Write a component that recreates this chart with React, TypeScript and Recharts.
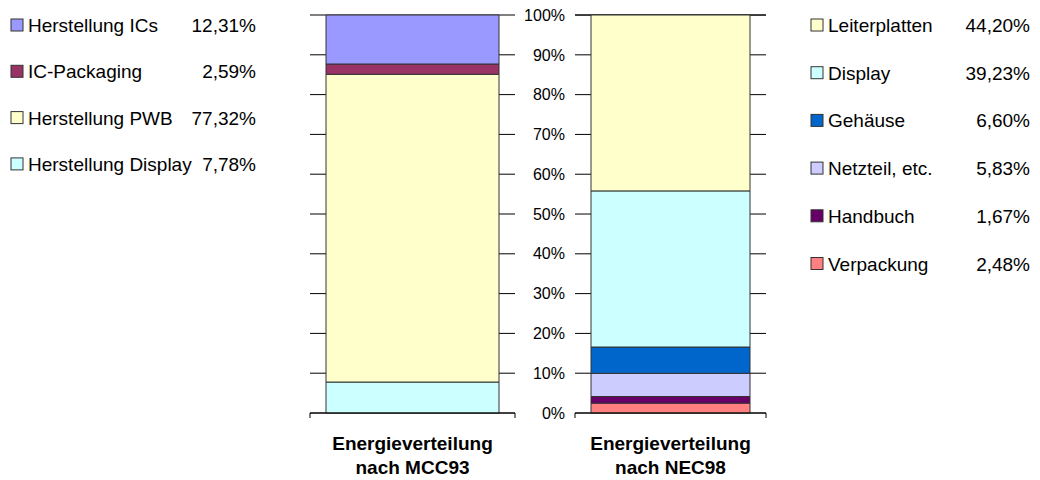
import React from 'react';
import { BarChart, Bar, XAxis, YAxis, CartesianGrid } from 'recharts';

// MCC93 energy breakdown (legend order, top to bottom)
const mccSeries = ['Herstellung ICs', 'IC-Packaging', 'Herstellung PWB', 'Herstellung Display'];
const mccValues = [12.31, 2.59, 77.32, 7.78];
const mccColors = ['#9999FF', '#993366', '#FFFFCC', '#CCFFFF'];
const mccCategory = ['Energieverteilung', 'nach MCC93'];

// NEC98 energy breakdown (legend order, top to bottom)
const necSeries = ['Leiterplatten', 'Display', 'Gehäuse', 'Netzteil, etc.', 'Handbuch', 'Verpackung'];
const necValues = [44.2, 39.23, 6.6, 5.83, 1.67, 2.48];
const necColors = ['#FFFFCC', '#CCFFFF', '#0066CC', '#CCCCFF', '#660066', '#FF8080'];
const necCategory = ['Energieverteilung', 'nach NEC98'];

const yTicks = [0, 10, 20, 30, 40, 50, 60, 70, 80, 90, 100];

const FONT = '"Liberation Sans", Arial, Helvetica, sans-serif';

const fmtPct = (v: number) => v.toFixed(2).replace('.', ',') + '%';

const buildRow = (category: string[], series: string[], values: number[]) => {
  const row: Record<string, string | number> = { name: category.join(' ') };
  series.forEach((s, i) => {
    row['s' + i] = values[i];
  });
  return [row];
};

const mccRows = buildRow(mccCategory, mccSeries, mccValues);
const necRows = buildRow(necCategory, necSeries, necValues);

// Two-line bold category label plus the short tick marks at both band edges
const CategoryTick = (lines: string[]) => (props: any) => {
  const { x, y, payload } = props;
  const half = payload && typeof payload.offset === 'number' ? payload.offset : 0;
  return (
    <g>
      <line x1={x - half} x2={x - half} y1={y} y2={y + 5} stroke="#000" strokeWidth={1} />
      <line x1={x + half} x2={x + half} y1={y} y2={y + 5} stroke="#000" strokeWidth={1} />
      <text x={x} textAnchor="middle" fontFamily={FONT} fontSize={19} fontWeight="bold" fill="#000">
        <tspan x={x} y={y + 37}>{lines[0]}</tspan>
        <tspan x={x} y={y + 61}>{lines[1]}</tspan>
      </text>
    </g>
  );
};

interface StackProps {
  rows: Record<string, string | number>[];
  series: string[];
  colors: string[];
  category: string[];
  left: number;
  right: number;
  showY: boolean;
}

const StackChart = ({ rows, series, colors, category, left, right, showY }: StackProps) => (
  <BarChart
    width={1040}
    height={480}
    data={rows}
    margin={{ top: 15, right: 1040 - right, bottom: 0, left: showY ? left - 60 : left }}
    barCategoryGap={16}
  >
    <CartesianGrid vertical={false} stroke="#000" strokeWidth={1} />
    <XAxis
      dataKey="name"
      height={67}
      axisLine={{ stroke: '#000' }}
      tickLine={false}
      tickSize={0}
      tickMargin={0}
      interval={0}
      tick={CategoryTick(category)}
    />
    <YAxis
      domain={[0, 100]}
      ticks={yTicks}
      hide={!showY}
      width={60}
      axisLine={false}
      tickLine={false}
      tickSize={0}
      tickMargin={10}
      tickFormatter={(v: number) => v + '%'}
      tick={{ fill: '#000', fontSize: 16, fontFamily: FONT }}
    />
    {series
      .map((s, i) => (
        <Bar
          key={s}
          dataKey={'s' + i}
          name={s}
          stackId="a"
          fill={colors[i]}
          stroke="#333"
          strokeWidth={1}
          isAnimationActive={false}
        />
      ))
      .reverse()}
  </BarChart>
);

interface LegendProps {
  series: string[];
  values: number[];
  colors: string[];
  x: number;
  valueRight: number;
  firstBaseline: number;
  step: number;
}

const LegendBlock = ({ series, values, colors, x, valueRight, firstBaseline, step }: LegendProps) => (
  <g fontFamily={FONT} fontSize={19} fill="#000">
    {series.map((s, i) => {
      const base = firstBaseline + i * step;
      return (
        <g key={s}>
          <rect x={x} y={base - 13} width={12} height={12} fill={colors[i]} stroke="#333" strokeWidth={1} />
          <text x={x + 17} y={base}>{s}</text>
          <text x={valueRight} y={base} textAnchor="end">{fmtPct(values[i])}</text>
        </g>
      );
    })}
  </g>
);

const layer: React.CSSProperties = { position: 'absolute', left: 0, top: 0 };

export default function App() {
  return (
    <div
      style={{
        position: 'absolute',
        left: 0,
        top: 0,
        width: 1040,
        height: 480,
        background: '#fff',
        fontFamily: FONT,
        overflow: 'hidden',
      }}
    >
      <div style={layer}>
        <StackChart rows={mccRows} series={mccSeries} colors={mccColors} category={mccCategory} left={310} right={515} showY={false} />
      </div>
      <div style={layer}>
        <StackChart rows={necRows} series={necSeries} colors={necColors} category={necCategory} left={575} right={766} showY={true} />
      </div>
      <svg width={1040} height={480} style={layer}>
        <LegendBlock series={mccSeries} values={mccValues} colors={mccColors} x={11} valueRight={256} firstBaseline={32} step={46.3} />
        <LegendBlock series={necSeries} values={necValues} colors={necColors} x={811} valueRight={1030} firstBaseline={32} step={47.7} />
      </svg>
    </div>
  );
}
